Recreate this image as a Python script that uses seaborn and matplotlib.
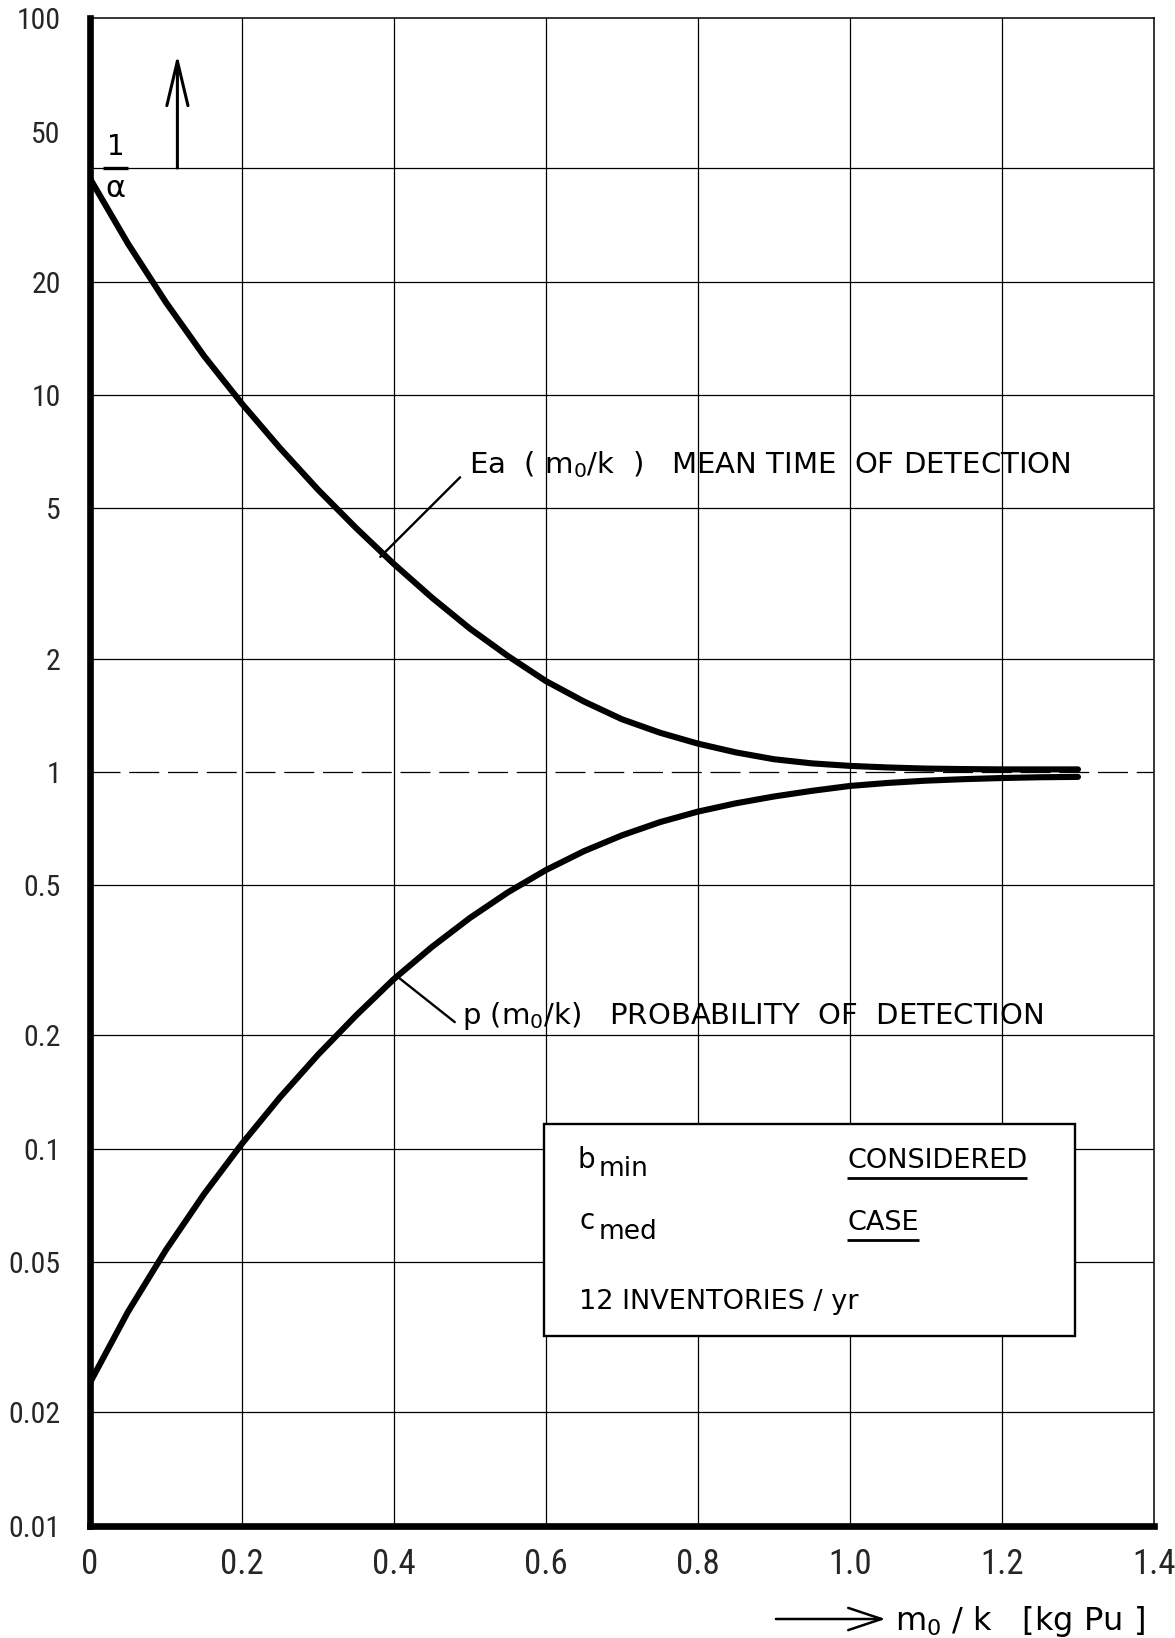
import matplotlib
matplotlib.use("Agg")
import matplotlib.pyplot as plt
import seaborn as sns
import pandas as pd
from matplotlib import font_manager
from matplotlib.patches import Rectangle, FancyArrowPatch
from matplotlib.transforms import blended_transform_factory

# --- data -------------------------------------------------------------------
mass = [0.00, 0.05, 0.10, 0.15, 0.20, 0.25, 0.30, 0.35, 0.40, 0.45, 0.50,
        0.55, 0.60, 0.65, 0.70, 0.75, 0.80, 0.85, 0.90, 0.95, 1.00, 1.05,
        1.10, 1.15, 1.20, 1.25, 1.30]
mean_time = [37.5, 25.2, 17.6, 12.7, 9.48, 7.23, 5.61, 4.44, 3.56, 2.90, 2.40,
             2.03, 1.742, 1.538, 1.380, 1.271, 1.189, 1.127, 1.081, 1.054,
             1.038, 1.028, 1.021, 1.018, 1.016, 1.016, 1.016]
probability = [0.0240, 0.0370, 0.0540, 0.0759, 0.1033, 0.1371, 0.1778,
               0.2259, 0.2825, 0.3436, 0.4102, 0.4797, 0.5495, 0.6166,
               0.6792, 0.7362, 0.7852, 0.8260, 0.8610, 0.8913, 0.9183,
               0.9354, 0.9484, 0.9572, 0.9638, 0.9683, 0.9705]
alpha_inv = 40.0

y_ticks = [100, 50, 20, 10, 5, 2, 1, 0.5, 0.2, 0.1, 0.05, 0.02, 0.01]
y_tick_labels = ["100", "50", "20", "10", "5", "2", "1", "0.5", "0.2", "0.1",
                 "0.05", "0.02", "0.01"]
x_ticks = [0, 0.2, 0.4, 0.6, 0.8, 1.0, 1.2, 1.4]
x_tick_labels = ["0", "0.2", "0.4", "0.6", "0.8", "1.0", "1.2", "1.4"]
grid_levels = [20, 10, 5, 2, 0.5, 0.2, 0.1, 0.05, 0.02]
grid_columns = [0.2, 0.4, 0.6, 0.8, 1.0, 1.2]

# --- style ------------------------------------------------------------------
sns.set_theme(style="white")
available = {f.name for f in font_manager.fontManager.ttflist}
NARROW = next((f for f in ["Liberation Sans Narrow", "Roboto Condensed",
                           "DejaVu Sans"] if f in available), "DejaVu Sans")
TEXT = ["DejaVu Sans"]
plt.rcParams["font.family"] = [NARROW, "DejaVu Sans"]
plt.rcParams["mathtext.default"] = "regular"
plt.rcParams["text.color"] = "black"

fig = plt.figure(figsize=(11.75, 16.38), dpi=100)
ax = fig.add_axes([0.0766, 0.0684, 0.9055, 0.9206])
ax.set_yscale("log")
ax.set_xlim(0, 1.4)
ax.set_ylim(0.01, 100)

# grid
for lvl in grid_levels:
    ax.axhline(lvl, color="black", lw=0.9, zorder=1)
ax.axhline(alpha_inv, color="black", lw=0.9, zorder=1)
ax.axhline(1, color="black", lw=0.9, dashes=(24, 7), zorder=1)
for c in grid_columns:
    ax.axvline(c, color="black", lw=0.9, zorder=1)

# curves
df = pd.DataFrame({"m": mass, "Ea": mean_time, "p": probability})
sns.lineplot(data=df, x="m", y="Ea", ax=ax, color="black", lw=4.4,
             solid_capstyle="round", solid_joinstyle="round", zorder=3)
sns.lineplot(data=df, x="m", y="p", ax=ax, color="black", lw=4.4,
             solid_capstyle="round", solid_joinstyle="round", zorder=3)

# axes frame
for side in ["left", "bottom"]:
    ax.spines[side].set_linewidth(4.8)
    ax.spines[side].set_color("black")
    ax.spines[side].set_zorder(5)
for side in ["top", "right"]:
    ax.spines[side].set_linewidth(1.1)
    ax.spines[side].set_color("black")

ax.set_yticks(y_ticks)
ax.set_yticklabels(y_tick_labels)
ax.minorticks_off()
ax.set_xticks(x_ticks)
ax.set_xticklabels(x_tick_labels)
ax.tick_params(axis="y", length=0, pad=21, labelsize=21.5)
ax.tick_params(axis="x", length=0, pad=16, labelsize=25)
ax.set_xlabel("")
ax.set_ylabel("")
ax.grid(False)

# 1/alpha mark and upward arrow
bt = blended_transform_factory(ax.transAxes, ax.transData)
ax.plot([0.012, 0.036], [alpha_inv, alpha_inv], transform=bt, color="black",
        lw=2.4, zorder=4, solid_capstyle="butt")
ax.text(0.024, alpha_inv * 1.045, "1", transform=bt, ha="center",
        va="bottom", fontsize=20, family=TEXT)
ax.text(0.024, alpha_inv / 1.035, "α", transform=bt, ha="center", va="top",
        fontsize=22, family=TEXT)
ax.annotate("", xy=(0.115, 80), xytext=(0.115, alpha_inv),
            arrowprops=dict(arrowstyle="->,head_length=1.6,head_width=0.38",
                            lw=2.2, color="black", mutation_scale=20,
                            shrinkA=0, shrinkB=0))

# curve labels with leader lines
leader = dict(arrowstyle="-", lw=1.7, color="black", shrinkA=0, shrinkB=0)
ax.text(0.499, 6.2, "Ea  ( m$_0$/k  )   MEAN TIME  OF DETECTION", ha="left",
        va="baseline", fontsize=21, family=TEXT)
ax.annotate("", xy=(0.382, 3.72), xytext=(0.487, 6.05), arrowprops=leader)
ax.text(0.489, 0.2146, "p (m$_0$/k)   PROBABILITY  OF  DETECTION",
        ha="left", va="baseline", fontsize=21, family=TEXT)
ax.annotate("", xy=(0.405, 0.286), xytext=(0.480, 0.217), arrowprops=leader)

# case box
ax.add_patch(Rectangle((0.4267, 0.126), 0.499, 0.1406, transform=ax.transAxes,
                       facecolor="white", edgecolor="black", lw=1.7, zorder=6))
box_text = dict(transform=ax.transAxes, va="baseline", zorder=7, family=TEXT)
ax.text(0.4586, 0.2374, "b", fontsize=20, **box_text)
ax.text(0.4784, 0.2321, "min", fontsize=19, **box_text)
ax.text(0.4596, 0.1972, "c", fontsize=20, **box_text)
ax.text(0.4784, 0.1901, "med", fontsize=19, **box_text)
t1 = ax.text(0.7115, 0.2374, "CONSIDERED", fontsize=19.5, **box_text)
t2 = ax.text(0.7115, 0.1963, "CASE", fontsize=19.5, **box_text)
ax.text(0.4596, 0.1439, "12 INVENTORIES / yr", fontsize=19.5, **box_text)

fig.canvas.draw()
inv = ax.transAxes.inverted()
for t in (t1, t2):
    bb = t.get_window_extent()
    (x0, y0), (x1, _) = inv.transform([(bb.x0, bb.y0), (bb.x1, bb.y1)])
    ax.plot([x0, x1], [y0 - 0.003, y0 - 0.003], transform=ax.transAxes,
            color="black", lw=2.0, zorder=7, solid_capstyle="butt")

# axis title with arrow
fig.text(0.762, 0.0049, "m$_0$ / k   [kg Pu ]", ha="left", va="baseline",
         fontsize=23, family=TEXT)
fig.patches.append(FancyArrowPatch(
    (0.658, 0.0116), (0.756, 0.0116), transform=fig.transFigure,
    arrowstyle="->,head_length=1.2,head_width=0.4", mutation_scale=20,
    lw=1.8, color="black"))

fig.savefig("out.png", dpi=100, facecolor="white")
